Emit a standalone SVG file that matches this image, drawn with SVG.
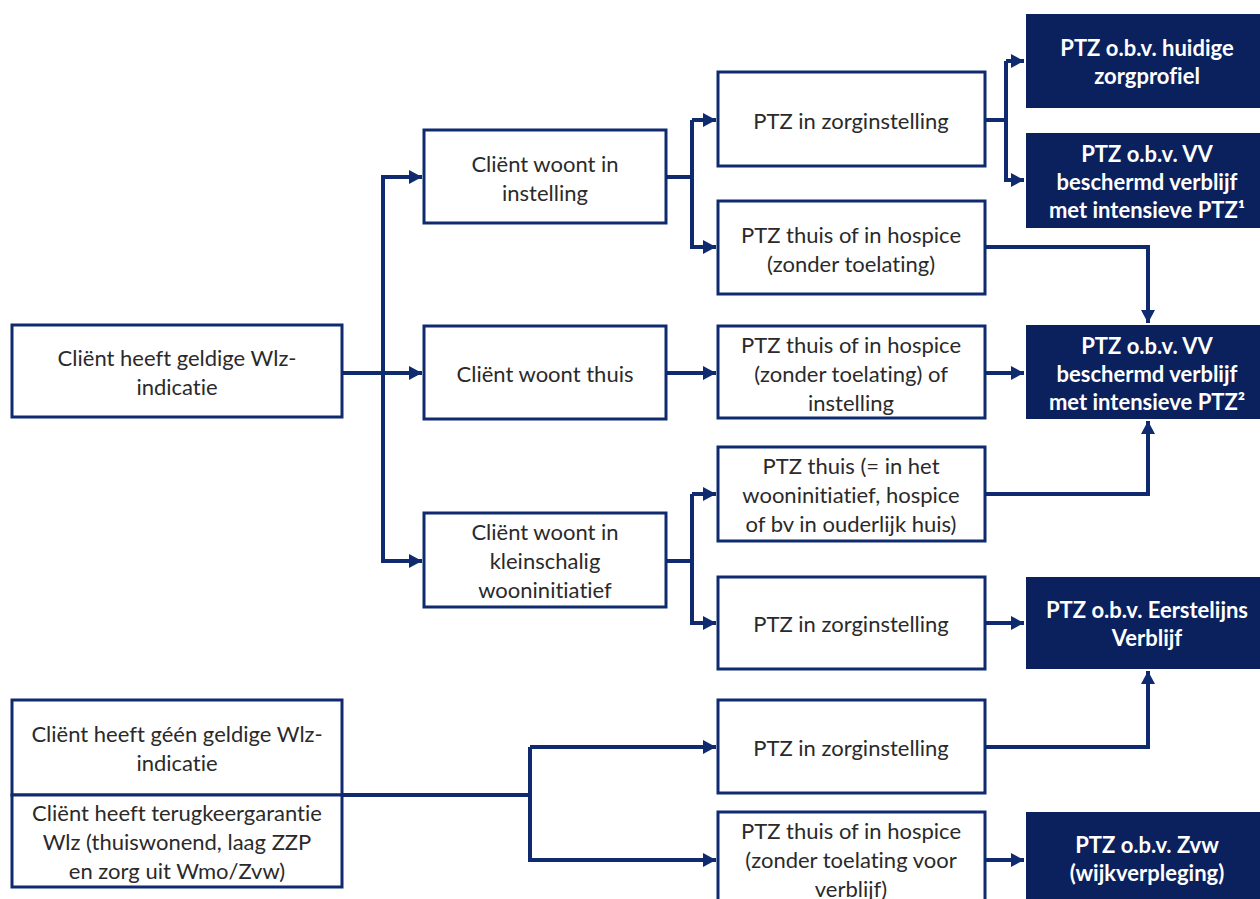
<svg xmlns="http://www.w3.org/2000/svg" width="1260" height="899" viewBox="0 0 1260 899">
<style>
.box{fill:#fff;stroke:#0f2a6e;stroke-width:3}
.dark{fill:#0b215e;stroke:none}
.t{font-family:Lato,"Liberation Sans",sans-serif;font-size:22px;fill:#2a2a2a;text-anchor:middle;dominant-baseline:central;font-variant-ligatures:none}
.w{font-family:Lato,"Liberation Sans",sans-serif;font-size:22px;font-weight:bold;fill:#fff;text-anchor:middle;dominant-baseline:central;font-variant-ligatures:none}
.c{fill:none;stroke:#0f2a6e;stroke-width:4;stroke-linejoin:miter}
</style>
<defs>
<marker id="ah" markerUnits="userSpaceOnUse" markerWidth="16" markerHeight="16" refX="13" refY="7" orient="auto">
<path d="M0,0 L13,7 L0,14 z" fill="#0f2a6e"/>
</marker>
</defs>
<rect width="1260" height="899" fill="#fff"/>
<g id="connectors">
<path class="c" d="M342,373 H383"/>
<path class="c" d="M383,373 H422" marker-end="url(#ah)"/>
<path class="c" d="M422,177 H383 V561 H422" marker-end="url(#ah)"/>
<path class="c" d="M383,177 H422" marker-end="url(#ah)"/>
<path class="c" d="M666,177 H692"/>
<path class="c" d="M692,120 V247 H716" marker-end="url(#ah)"/>
<path class="c" d="M692,120 H716" marker-end="url(#ah)"/>
<path class="c" d="M985,120 H1006"/>
<path class="c" d="M1006,61 V180 H1024" marker-end="url(#ah)"/>
<path class="c" d="M1006,61 H1024" marker-end="url(#ah)"/>
<path class="c" d="M985,247 H1148 V323" marker-end="url(#ah)"/>
<path class="c" d="M666,373 H716" marker-end="url(#ah)"/>
<path class="c" d="M985,373 H1024" marker-end="url(#ah)"/>
<path class="c" d="M666,561 H692"/>
<path class="c" d="M692,494 V623 H716" marker-end="url(#ah)"/>
<path class="c" d="M692,494 H716" marker-end="url(#ah)"/>
<path class="c" d="M985,494 H1148 V421" marker-end="url(#ah)"/>
<path class="c" d="M985,623 H1024" marker-end="url(#ah)"/>
<path class="c" d="M342,795 H530"/>
<path class="c" d="M530,747 V860 H716" marker-end="url(#ah)"/>
<path class="c" d="M530,747 H716" marker-end="url(#ah)"/>
<path class="c" d="M985,747 H1148 V671" marker-end="url(#ah)"/>
<path class="c" d="M985,860 H1024" marker-end="url(#ah)"/>
</g>
<g id="nodeA"><rect class="box" x="12" y="325" width="330" height="92"/><text class="t" x="177" y="357">Cliënt heeft geldige Wlz-</text><text class="t" x="177" y="386">indicatie</text></g>
<g id="nodeB1"><rect class="box" x="424" y="130" width="242" height="93"/><text class="t" x="545" y="163">Cliënt woont in</text><text class="t" x="545" y="192">instelling</text></g>
<g id="nodeB2"><rect class="box" x="424" y="326" width="242" height="93"/><text class="t" x="545" y="373">Cliënt woont thuis</text></g>
<g id="nodeB3"><rect class="box" x="424" y="513" width="242" height="94"/><text class="t" x="545" y="531">Cliënt woont in</text><text class="t" x="545" y="560">kleinschalig</text><text class="t" x="545" y="589">wooninitiatief</text></g>
<g id="nodeC1"><rect class="box" x="718" y="72" width="267" height="94"/><text class="t" x="851" y="120">PTZ in zorginstelling</text></g>
<g id="nodeC2"><rect class="box" x="718" y="201" width="267" height="93"/><text class="t" x="851" y="234">PTZ thuis of in hospice</text><text class="t" x="851" y="263">(zonder toelating)</text></g>
<g id="nodeC3"><rect class="box" x="718" y="326" width="267" height="92"/><text class="t" x="851" y="344">PTZ thuis of in hospice</text><text class="t" x="851" y="373">(zonder toelating) of</text><text class="t" x="851" y="402">instelling</text></g>
<g id="nodeC4"><rect class="box" x="718" y="447" width="267" height="94"/><text class="t" x="851" y="465">PTZ thuis (= in het</text><text class="t" x="851" y="494">wooninitiatief, hospice</text><text class="t" x="851" y="523">of bv in ouderlijk huis)</text></g>
<g id="nodeC5"><rect class="box" x="718" y="577" width="267" height="92"/><text class="t" x="851" y="623">PTZ in zorginstelling</text></g>
<g id="nodeC6"><rect class="box" x="718" y="700" width="267" height="93"/><text class="t" x="851" y="747">PTZ in zorginstelling</text></g>
<g id="nodeC7"><rect class="box" x="718" y="812" width="267" height="95"/><text class="t" x="851" y="830">PTZ thuis of in hospice</text><text class="t" x="851" y="859">(zonder toelating voor</text><text class="t" x="851" y="888">verblijf)</text></g>
<g id="nodeD1"><rect class="dark" x="1026" y="14" width="250" height="94"/><text class="w" x="1147" y="47">PTZ o.b.v. huidige</text><text class="w" x="1147" y="75">zorgprofiel</text></g>
<g id="nodeD2"><rect class="dark" x="1026" y="133" width="250" height="95"/><text class="w" x="1147" y="153">PTZ o.b.v. VV</text><text class="w" x="1147" y="181">beschermd verblijf</text><text class="w" x="1147" y="209">met intensieve PTZ¹</text></g>
<g id="nodeD3"><rect class="dark" x="1026" y="325" width="250" height="94"/><text class="w" x="1147" y="345">PTZ o.b.v. VV</text><text class="w" x="1147" y="373">beschermd verblijf</text><text class="w" x="1147" y="401">met intensieve PTZ²</text></g>
<g id="nodeD4"><rect class="dark" x="1026" y="577" width="250" height="92"/><text class="w" x="1147" y="609">PTZ o.b.v. Eerstelijns</text><text class="w" x="1147" y="637">Verblijf</text></g>
<g id="nodeD5"><rect class="dark" x="1026" y="812" width="250" height="100"/><text class="w" x="1147" y="844">PTZ o.b.v. Zvw</text><text class="w" x="1147" y="872">(wijkverpleging)</text></g>
<g id="nodeE1"><rect class="box" x="12" y="700" width="330" height="95"/><text class="t" x="177" y="733">Cliënt heeft géén geldige Wlz-</text><text class="t" x="177" y="762">indicatie</text></g>
<g id="nodeE2"><rect class="box" x="12" y="795" width="330" height="92"/><text class="t" x="177" y="812">Cliënt heeft terugkeergarantie</text><text class="t" x="177" y="841">Wlz (thuiswonend, laag ZZP</text><text class="t" x="177" y="870">en zorg uit Wmo/Zvw)</text></g>
</svg>
